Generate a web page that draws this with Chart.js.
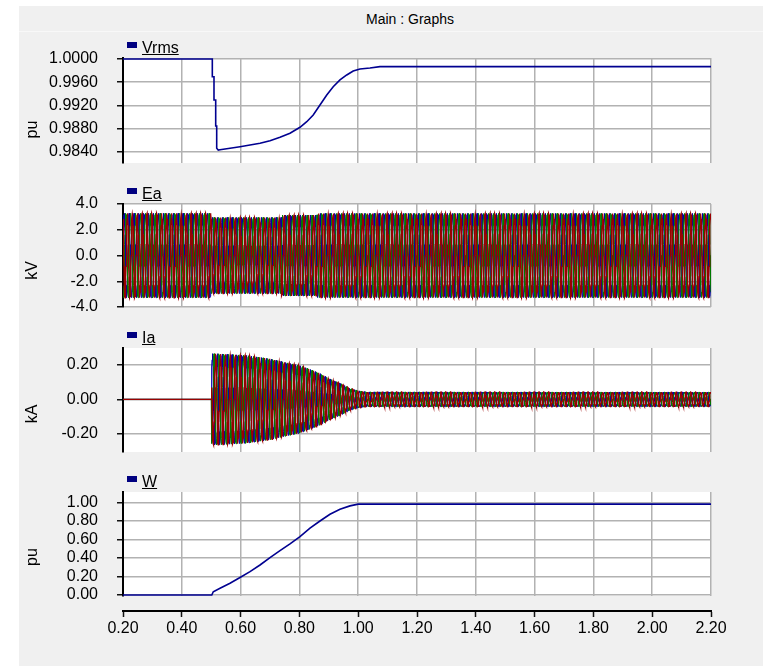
<!DOCTYPE html>
<html>
<head>
<meta charset="utf-8">
<title>Main : Graphs</title>
<script src="https://cdn.jsdelivr.net/npm/chart.js@4.4.1/dist/chart.umd.min.js"></script>
<style>
  html, body { margin: 0; padding: 0; background: #ffffff; width: 763px; height: 666px; overflow: hidden; }
  #frame { position: absolute; left: 19px; top: 6px; width: 744px; height: 660px; background: #f0f0f0; }
  #titlebar { position: absolute; left: 19px; top: 6px; width: 744px; height: 25px; border-bottom: 1px solid #f8f8f8; }
  #title { position: absolute; left: 310px; top: 11px; width: 200px; text-align: center;
           font: 14px "Liberation Sans", Arial, sans-serif; color: #000; line-height: 16px; }
  canvas { position: absolute; left: 0; }
</style>
</head>
<body>
<div id="frame"></div>
<div id="titlebar"></div>
<div id="title">Main : Graphs</div>
<canvas id="cVrms"></canvas>
<canvas id="cEa"></canvas>
<canvas id="cIa"></canvas>
<canvas id="cW"></canvas>
<canvas id="cAxis"></canvas>
<script>
// ---- time axis (s) ----
const timeTicks = [0.2, 0.4, 0.6, 0.8, 1.0, 1.2, 1.4, 1.6, 1.8, 2.0, 2.2];

// ---- Vrms (pu) ----
const vrmsTime  = [0.20, 0.5017, 0.5038, 0.5038, 0.5095, 0.5095, 0.5153, 0.5153, 0.5187, 0.5187, 0.524, 0.530,
                   0.564, 0.598, 0.632, 0.666, 0.700, 0.734, 0.768, 0.802, 0.825, 0.847, 0.870, 0.893,
                   0.915, 0.938, 0.961, 0.983, 1.006, 1.040, 1.074, 2.20];
const vrmsValue = [1.0000, 1.0000, 1.0000, 0.99695, 0.99695, 0.99295, 0.99295, 0.98847, 0.98847, 0.98464, 0.98434, 0.98440,
                   0.98464, 0.98491, 0.98520, 0.98550, 0.98595, 0.98653, 0.98722, 0.98825, 0.98921, 0.99037, 0.99209, 0.99381,
                   0.99524, 0.99639, 0.99725, 0.99794, 0.99828, 0.99845, 0.99868, 0.99868];
const vrmsTicks = [0.9840, 0.9880, 0.9920, 0.9960, 1.0000];

// ---- Ea (kV): peak of the three-phase voltage, held constant between these instants ----
const eaStepTime = [0.20, 0.50, 0.74, 0.86];
const eaStepPeak = [3.28, 2.96, 3.14, 3.27];
const eaTicks = [-4.0, -2.0, 0.0, 2.0, 4.0];

// ---- Ia (kA): peak of the three-phase current ----
const iaEnvTime = [0.502, 0.52, 0.62, 0.70, 0.75, 0.80, 0.85, 0.87, 0.90, 0.94, 0.97, 1.00, 1.03, 2.20];
const iaEnvPeak = [0.265, 0.265, 0.255, 0.235, 0.215, 0.197, 0.165, 0.150, 0.121, 0.093, 0.065, 0.050, 0.043, 0.042];
const iaTicks = [-0.20, 0.00, 0.20];

// ---- W (pu) ----
const wTime  = [0.20, 0.502, 0.507, 0.530, 0.564, 0.598, 0.632, 0.666, 0.700, 0.734, 0.768, 0.802, 0.836,
                0.870, 0.904, 0.938, 0.972, 1.000, 2.20];
const wValue = [0.000, 0.000, 0.036, 0.073, 0.127, 0.190, 0.253, 0.325, 0.405, 0.480, 0.553, 0.632, 0.722,
                0.800, 0.873, 0.927, 0.963, 0.982, 0.982];
const wTicks = [0.00, 0.20, 0.40, 0.60, 0.80, 1.00];

// ---- waveform settings ----
const systemHz = 60;
const samplesPerCycle = 24;
const phaseShift = [0, -2 * Math.PI / 3, 2 * Math.PI / 3];

const FONT = '"Liberation Sans", Arial, sans-serif';
const GRID = '#b2b2b2';
const PHASE_COLORS = ['#9a0000', '#007a00', '#0000a8'];   // c, b, a  (first is drawn on top)
const PHASE_WIDTHS = [1.3, 1, 1];

function pairs(xs, ys) { return xs.map((x, i) => ({ x, y: ys[i] })); }

function stepPeak(times, peaks, t) {
  let v = peaks[0];
  for (let i = 0; i < times.length; i++) if (t >= times[i]) v = peaks[i];
  return v;
}
function linearPeak(times, peaks, t) {
  if (t <= times[0]) return peaks[0];
  for (let i = 1; i < times.length; i++) {
    if (t <= times[i]) {
      const f = (t - times[i - 1]) / (times[i] - times[i - 1]);
      return peaks[i - 1] + f * (peaks[i] - peaks[i - 1]);
    }
  }
  return peaks[peaks.length - 1];
}

// three phase traces: the sinusoidal carrier scaled by the peak envelope
function threePhase(peakAt, tStart, tEnd) {
  const dt = 1 / (systemHz * samplesPerCycle);
  const out = [[], [], []];
  for (let t = 0.2; t <= tEnd + 1e-9; t += dt) {
    const on = t >= tStart;
    const pk = on ? peakAt(t) : 0;
    for (let p = 0; p < 3; p++) {
      out[p].push({ x: t, y: pk * Math.sin(2 * Math.PI * systemHz * t + phaseShift[p]) });
    }
  }
  if (tStart > 0.2) {
    // hold the zero trace right up to the switching instant
    for (let p = 0; p < 3; p++) {
      out[p].push({ x: tStart, y: 0 });
      out[p].sort((a, b) => a.x - b.x);
    }
  }
  return out;
}

const eaPhases = threePhase(t => stepPeak(eaStepTime, eaStepPeak, t), 0.2, 2.2);
const iaPhases = threePhase(t => linearPeak(iaEnvTime, iaEnvPeak, t), 0.502, 2.2);

function phaseSets(ph) {
  // phase c (red) first so it is painted on top, then b (green), then a (blue)
  return [2, 1, 0].map((p, k) => ({
    data: ph[p], borderColor: PHASE_COLORS[k], borderWidth: PHASE_WIDTHS[k], pointRadius: 0, tension: 0
  }));
}

const plotBg = {
  id: 'plotBg',
  beforeDraw(chart) {
    const a = chart.chartArea; if (!a) return;
    const ctx = chart.ctx;
    ctx.save(); ctx.fillStyle = '#ffffff';
    ctx.fillRect(a.left, a.top, a.right - a.left, a.bottom - a.top);
    ctx.restore();
  }
};

const panelDecor = {
  id: 'panelDecor',
  afterDraw(chart, args, opts) {
    if (!opts || !opts.legend) return;
    const { ctx, chartArea: a } = chart;
    ctx.save();
    ctx.fillStyle = '#000080';
    ctx.fillRect(a.left + 4, a.top - 16, 10, 6);
    ctx.font = '16px ' + FONT;
    ctx.fillStyle = '#000';
    ctx.textBaseline = 'alphabetic';
    ctx.textAlign = 'left';
    ctx.fillText(opts.legend, a.left + 19, a.top - 5);
    const w = ctx.measureText(opts.legend).width;
    ctx.fillRect(a.left + 19, a.top - 4, w, 1);
    ctx.translate(33, (a.top + a.bottom) / 2 + opts.unitShift);
    ctx.rotate(-Math.PI / 2);
    ctx.textAlign = 'center';
    ctx.textBaseline = 'middle';
    ctx.fillText(opts.unit, 0, 0);
    ctx.restore();
  }
};

function makePanel(id, plotTop, plotBottom, yMin, yMax, ticks, decimals, datasets, legend, unit, unitShift) {
  const padTop = 22, padBottom = 12;
  const cv = document.getElementById(id);
  const h = plotBottom - plotTop + padTop + padBottom;
  cv.width = 763; cv.height = h;
  cv.style.width = '763px'; cv.style.height = h + 'px';
  cv.style.top = (plotTop - padTop) + 'px';
  return new Chart(cv, {
    type: 'line',
    data: { datasets },
    options: {
      responsive: false, animation: false, events: [], parsing: false, normalized: true,
      layout: { padding: { left: 0, right: 52, top: padTop, bottom: padBottom }, autoPadding: false },
      plugins: { legend: { display: false }, tooltip: { enabled: false }, panelDecor: { legend, unit, unitShift } },
      elements: { point: { radius: 0 }, line: { tension: 0 } },
      scales: {
        x: {
          type: 'linear', min: 0.2, max: 2.2,
          afterBuildTicks: s => { s.ticks = timeTicks.map(v => ({ value: v })); },
          afterFit: s => { s.height = 0; s.paddingLeft = 0; s.paddingRight = 0; },
          ticks: { display: false },
          grid: { color: GRID, lineWidth: 1.5, drawTicks: false },
          border: { display: false }
        },
        y: {
          type: 'linear', min: yMin, max: yMax,
          afterBuildTicks: s => { s.ticks = ticks.map(v => ({ value: v })); },
          afterFit: s => { s.width = 123; s.paddingTop = 0; s.paddingBottom = 0; },
          ticks: { callback: v => Number(v).toFixed(decimals), color: '#000', font: { family: FONT, size: 16 },
                   padding: 19, autoSkip: false },
          grid: { color: GRID, lineWidth: 1.5, tickLength: 6, tickColor: '#111', tickWidth: 1.5 },
          border: { color: '#000', width: 2 }
        }
      }
    },
    plugins: [plotBg, panelDecor]
  });
}

makePanel('cVrms', 58, 163, 0.98211, 1.00017, vrmsTicks, 4,
  [{ data: pairs(vrmsTime, vrmsValue), borderColor: '#000090', borderWidth: 1.6, pointRadius: 0 }], 'Vrms', 'pu', 19);
makePanel('cEa', 204, 307, -4.0, 4.0, eaTicks, 1, phaseSets(eaPhases), 'Ea', 'kV', 15);
makePanel('cIa', 348, 452, -0.306, 0.298, iaTicks, 2, phaseSets(iaPhases), 'Ia', 'kA', 14);
makePanel('cW', 492, 596, -0.01, 1.113, wTicks, 2,
  [{ data: pairs(wTime, wValue), borderColor: '#000090', borderWidth: 1.6, pointRadius: 0 }], 'W', 'pu', 13);

// shared time axis below the last panel
(function () {
  const cv = document.getElementById('cAxis');
  cv.width = 763; cv.height = 50;
  cv.style.width = '763px'; cv.style.height = '50px';
  cv.style.top = '600px';
  new Chart(cv, {
    type: 'line',
    data: { datasets: [] },
    options: {
      responsive: false, animation: false, events: [],
      layout: { padding: { left: 123, right: 52, top: 0, bottom: 0 }, autoPadding: false },
      plugins: { legend: { display: false }, tooltip: { enabled: false } },
      scales: {
        x: {
          type: 'linear', min: 0.2, max: 2.2,
          afterBuildTicks: s => { s.ticks = timeTicks.map(v => ({ value: v })); },
          afterFit: s => { s.height = 39; s.paddingLeft = 0; s.paddingRight = 0; },
          ticks: { callback: v => Number(v).toFixed(2), color: '#000', font: { family: FONT, size: 16 },
                   padding: 2, maxRotation: 0, autoSkip: false },
          grid: { drawOnChartArea: false, tickLength: 6, tickColor: '#111', tickWidth: 1.5 },
          border: { color: '#000', width: 2 }
        },
        y: { display: false, min: 0, max: 1 }
      }
    }
  });
})();
</script>
</body>
</html>
